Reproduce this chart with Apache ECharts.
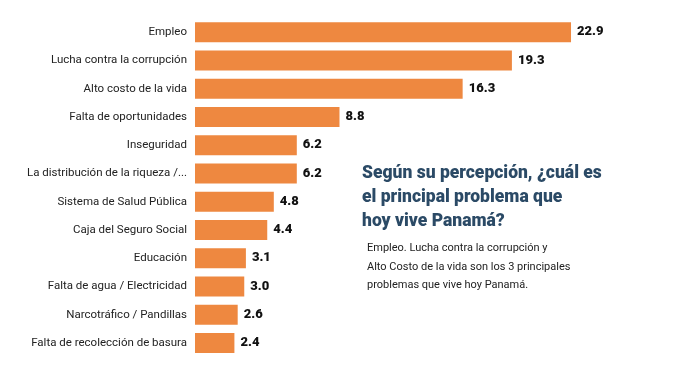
<!DOCTYPE html>
<html>
<head>
<meta charset="utf-8">
<script src="https://cdn.jsdelivr.net/npm/echarts@6/dist/echarts.min.js"></script>
<style>html,body{margin:0;padding:0;background:#fff;}#c{width:700px;height:390px;}</style>
</head>
<body>
<div id="c"></div>
<script>
const categories = [
  "Empleo",
  "Lucha contra la corrupción",
  "Alto costo de la vida",
  "Falta de oportunidades",
  "Inseguridad",
  "La distribución de la riqueza /...",
  "Sistema de Salud Pública",
  "Caja del Seguro Social",
  "Educación",
  "Falta de agua / Electricidad",
  "Narcotráfico / Pandillas",
  "Falta de recolección de basura"
];
const values = [22.9, 19.3, 16.3, 8.8, 6.2, 6.2, 4.8, 4.4, 3.1, 3.0, 2.6, 2.4];
const titleLines = ["Según su percepción, ¿cuál es", "el principal problema que", "hoy vive Panamá?"];
const noteLines = ["Empleo. Lucha contra la corrupción y", "Alto Costo de la vida son los 3 principales", "problemas que vive hoy Panamá."];

const chart = echarts.init(document.getElementById('c'), null, {renderer: 'canvas'});
chart.setOption({
  backgroundColor: '#ffffff',
  animation: false,
  grid: {left: 195, top: 18, width: 410.5, height: 339, containLabel: false},
  xAxis: {
    type: 'value', min: 0, max: 25, show: false
  },
  yAxis: {
    type: 'category', inverse: true, data: categories,
    axisLine: {show: false}, axisTick: {show: false},
    axisLabel: {color: '#222', fontFamily: 'Roboto', fontSize: 11.5, margin: 8}
  },
  series: [{
    type: 'bar', data: values, barWidth: 20,
    itemStyle: {color: '#EE8840'},
    label: {
      show: true, position: 'right', distance: 6,
      formatter: p => p.value.toFixed(1),
      color: '#111', fontFamily: 'Roboto', fontWeight: 900, fontSize: 13
    }
  }],
  graphic: [
    {type: 'text', left: 362, top: 162, style: {
      text: titleLines.join('\n'), fill: '#2B4A66', font: '900 17.5px Roboto', lineHeight: 24
    }},
    {type: 'text', left: 367, top: 239, style: {
      text: noteLines.join('\n'), fill: '#222', font: '11px Roboto', lineHeight: 18.5
    }}
  ]
});
</script>
</body>
</html>
